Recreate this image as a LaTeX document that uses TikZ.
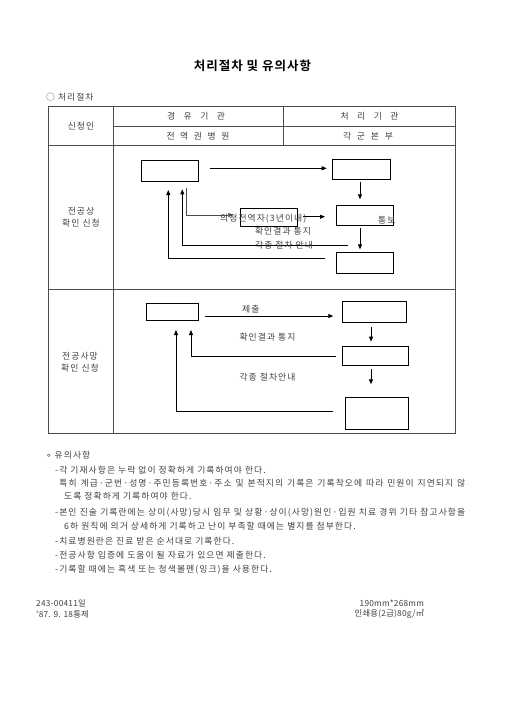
\documentclass[tikz,border=0pt]{standalone}
\usepackage{fontspec}
\setmainfont{Noto Sans CJK KR}[LetterSpace=12]
\newfontfamily\krplain{Noto Sans CJK KR}[LetterSpace=3]
\newfontfamily\krbold{Noto Sans CJK KR Bold}[LetterSpace=8]
\newfontfamily\dejavu{DejaVu Sans}
\usetikzlibrary{arrows.meta}
\begin{document}
\begin{tikzpicture}[x=1pt,y=-1pt,
  box/.style={draw=black,line width=0.9pt,inner sep=0pt},
  arr/.style={draw=black,line width=0.9pt,-{Triangle[length=5pt,width=4pt]}},
  txt/.style={inner sep=0pt,text=black!75,font=\fontsize{8.8}{10.5}\selectfont},
  foot/.style={inner sep=0pt,text=black!75,font=\krplain\fontsize{8.3}{10}\selectfont},
  tbl/.style={draw=black!70,line width=0.6pt}]
\useasboundingbox (0,0) rectangle (504,713);
% title
\node[inner sep=0pt,font=\krbold\fontsize{12.5}{14}\selectfont] (title) at (252.5,66) {처리절차 및 유의사항};
\node[txt,anchor=west] (sec) at (46,96.7) {○ 처리절차};
% table
\draw[tbl,line width=0.9pt] (48,106.7) rectangle (455.5,433);
\draw[tbl] (113.3,126) -- (455.5,126);
\draw[tbl] (48,145.3) -- (455.5,145.3);
\draw[tbl] (48,289) -- (455.5,289);
\draw[tbl] (113.3,106.7) -- (113.3,433);
\draw[tbl] (283.3,106.7) -- (283.3,145.3);
\node[txt] (h0) at (81,126) {신청인};
\node[txt] (h1) at (196,116.3) {\makebox[58pt][s]{경 유 기 관}};
\node[txt] (h2) at (369.5,116.3) {\makebox[58pt][s]{처 리 기 관}};
\node[txt] (h3) at (198,135.7) {\makebox[63pt][s]{전 역 권 병 원}};
\node[txt] (h4) at (368,135.7) {\makebox[50pt][s]{각 군 본 부}};
\node[txt,align=center] (l1) at (81,217) {전공상\\[1pt]확인 신청};
\node[txt,align=center] (l2) at (80,362) {전공사망\\[1pt]확인 신청};
% section 2
\node[box,minimum width=57pt,minimum height=20.6pt] (A) at (169.7,171) {};
\node[box,minimum width=57.7pt,minimum height=19.7pt] (B) at (361.2,169.2) {};
\node[box,minimum width=57.3pt,minimum height=19.7pt] (C) at (364.7,215.2) {};
\node[box,minimum width=57.7pt,minimum height=18.4pt] (D) at (268.8,217.5) {};
\node[box,minimum width=57.3pt,minimum height=20.6pt] (E) at (364.7,263) {};
\coordinate (a1) at (210,168.3); \coordinate (a2) at (326.7,168.3);
\draw[arr] (a1) -- (a2);
\coordinate (b1) at (360,181.7); \coordinate (b2) at (360,199.3);
\draw[arr] (b1) -- (b2);
\coordinate (d1) at (303.3,216.7); \coordinate (d2) at (325,216.7);
\draw[arr] (d1) -- (d2);
\coordinate (c1) at (360,228); \coordinate (c2) at (360,249.3);
\draw[arr] (c1) -- (c2);
\coordinate (g1) at (186.7,188.3); \coordinate (g2) at (233.3,215);
\draw[arr,line width=0.6pt,draw=black!70] (g1) |- (g2);
\coordinate (k1) at (348.3,245.3); \coordinate (k2) at (182.3,189.3);
\draw[arr] (k1) -| (k2);
\coordinate (m1) at (325,258.3); \coordinate (m2) at (168.3,190);
\draw[arr] (m1) -| (m2);
\node[txt,anchor=west] (t1) at (220,219) {의정전역자(3년이내)};
\node[txt,anchor=west] (t2) at (378,220) {통보};
\node[txt] (t3) at (283,230.7) {확인결과 통지};
\node[txt] (t4) at (284,245.3) {각종 절차 안내};
% section 3
\node[box,minimum width=51.6pt,minimum height=17.4pt] (F) at (172.5,312) {};
\node[box,minimum width=64.4pt,minimum height=20.6pt] (G) at (374.5,312) {};
\node[box,minimum width=66pt,minimum height=18.3pt] (H) at (375.3,355.8) {};
\node[box,minimum width=63.3pt,minimum height=32pt] (I) at (376.7,413.3) {};
\coordinate (f1) at (205,316); \coordinate (f2) at (333.3,316);
\draw[arr] (f1) -- (f2);
\coordinate (h1a) at (371,326.7); \coordinate (h1b) at (371,341.7);
\draw[arr] (h1a) -- (h1b);
\coordinate (i1) at (371,369.3); \coordinate (i2) at (371,384.3);
\draw[arr] (i1) -- (i2);
\coordinate (n1) at (336,356); \coordinate (n2) at (191,330);
\draw[arr] (n1) -| (n2);
\coordinate (p1) at (333.3,411.7); \coordinate (p2) at (176,330);
\draw[arr] (p1) -| (p2);
\node[txt] (s1) at (250.8,309) {제출};
\node[txt] (s2) at (267.5,336.7) {확인결과 통지};
\node[txt] (s3) at (267.5,376.7) {각종 절차안내};
% notes
\node[txt,anchor=west] (n0) at (46,455) {{\dejavu ∘} 유의사항};
\node[txt,anchor=west] (r1) at (55,470) {-각 기재사항은 누락 없이 정확하게 기록하여야 한다.};
\node[txt,anchor=west] (r2) at (59.3,482.7) {\makebox[405.7pt][s]{특히 계급·군번·성명·주민등록번호·주소 및 본적지의 기록은 기록착오에 따라 민원이 지연되지 않}};
\node[txt,anchor=west] (r3) at (64,496) {도록 정확하게 기록하여야 한다.};
\node[txt,anchor=west] (r4) at (55,512.7) {\makebox[410pt][s]{-본인 진술 기록란에는 상이(사망)당시 임무 및 상황·상이(사망)원인·입원 치료 경위 기타 참고사항을}};
\node[txt,anchor=west] (r5) at (64,526) {6하 원칙에 의거 상세하게 기록하고 난이 부족할 때에는 별지를 첨부한다.};
\node[txt,anchor=west] (r6) at (55,541.7) {-치료병원란은 진료 받은 순서대로 기록한다.};
\node[txt,anchor=west] (r7) at (55,555) {-전공사항 입증에 도움이 될 자료가 있으면 제출한다.};
\node[txt,anchor=west] (r8) at (55,570) {-기록할 때에는 흑색 또는 청색볼펜(잉크)을 사용한다.};
% footer
\node[foot,anchor=west] (f01) at (36,603.3) {243-00411일};
\node[foot,anchor=west] (f02) at (36,614) {'87. 9. 18통제};
\node[foot,anchor=east] (f03) at (424.3,603.3) {190mm*268mm};
\node[foot,anchor=east] (f04) at (424.3,614) {인쇄용(2급)80g/㎡};
\end{tikzpicture}
\end{document}
